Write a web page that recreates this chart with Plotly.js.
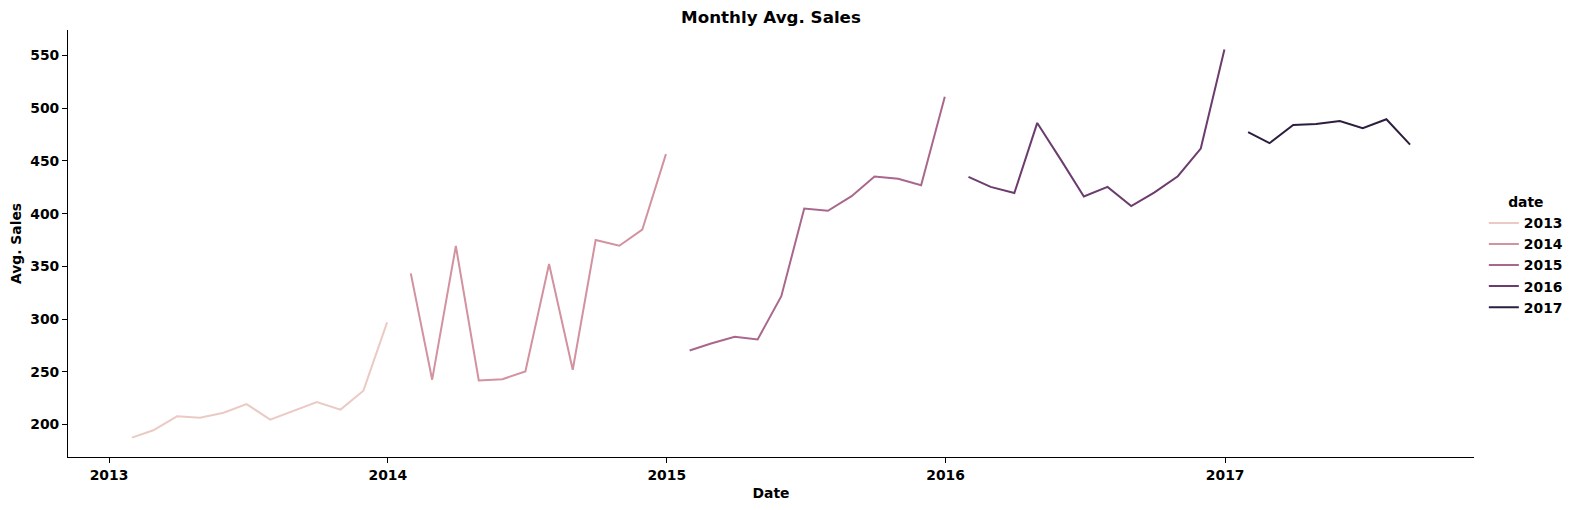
<!DOCTYPE html>
<html>
<head>
<meta charset="utf-8">
<script src="https://cdn.plot.ly/plotly-3.0.1.min.js"></script>
<style>html,body{margin:0;padding:0;background:#fff;}#chart{width:1582px;height:510px;}</style>
</head>
<body>
<div id="chart"></div>
<script>
// Years (hue levels) and monthly average sales (month-end points)
const years = [2013, 2014, 2015, 2016, 2017];
const sales2013 = [187.7, 194.6, 207.9, 206.6, 211.3, 219.5, 204.7, 212.9, 221.4, 214.2, 232.2, 297.0];
const sales2014 = [343.4, 242.6, 369.3, 241.9, 243.1, 250.4, 352.3, 252.0, 375.0, 369.6, 384.8, 456.4];
const sales2015 = [270.3, 276.9, 283.2, 280.7, 321.7, 404.9, 402.7, 416.6, 435.2, 433.0, 427.0, 510.9];
const sales2016 = [434.9, 425.4, 419.5, 486.0, 451.0, 416.3, 425.4, 407.2, 420.0, 435.5, 461.7, 555.7];
const sales2017 = [477.2, 466.8, 484.1, 485.0, 487.9, 481.0, 489.5, 465.5];
const xTickLabels = ["2013", "2014", "2015", "2016", "2017"];

const seriesByYear = [sales2013, sales2014, sales2015, sales2016, sales2017];
const colors = ["#ebcac4", "#d2929f", "#a9678d", "#6c3c6f", "#2d1e3e"];

function monthEnd(y, m) {
  const d = new Date(Date.UTC(y, m + 1, 0));
  return d.toISOString().slice(0, 10);
}

const traces = years.map((yr, i) => ({
  type: "scatter",
  mode: "lines",
  name: String(yr),
  x: seriesByYear[i].map((_, m) => monthEnd(yr, m)),
  y: seriesByYear[i],
  line: { color: colors[i], width: 2 },
  hoverinfo: "x+y+name"
}));

const font = { family: "DejaVu Sans", size: 13.9, color: "#000", weight: "bold" };

const layout = {
  width: 1582,
  height: 510,
  margin: { l: 68, r: 108, t: 30, b: 53 },
  paper_bgcolor: "#fff",
  plot_bgcolor: "#fff",
  font: font,
  title: {
    text: "Monthly Avg. Sales",
    font: { family: "DejaVu Sans", size: 16.7, color: "#000", weight: "bold" },
    x: 0.5, xref: "paper", xanchor: "center",
    y: 1, yref: "paper", yanchor: "bottom",
    pad: { b: 7 }
  },
  xaxis: {
    type: "date",
    range: ["2012-11-08 08:00", "2017-11-22 16:00"],
    tickvals: xTickLabels.map(y => y + "-01-01"),
    ticktext: xTickLabels,
    ticks: "outside", ticklen: 5, tickwidth: 1, tickcolor: "#000",
    showline: true, linecolor: "#000", linewidth: 1,
    showgrid: false, zeroline: false,
    tickfont: font,
    title: { text: "Date", font: font, standoff: 6 }
  },
  yaxis: {
    range: [169.3, 574.1],
    tickvals: [200, 250, 300, 350, 400, 450, 500, 550],
    ticks: "outside", ticklen: 5, tickwidth: 1, tickcolor: "#000",
    showline: true, linecolor: "#000", linewidth: 1,
    showgrid: false, zeroline: false,
    tickfont: font,
    title: { text: "Avg. Sales", font: font, standoff: 5 }
  },
  showlegend: true,
  legend: {
    x: 1.007, xanchor: "left",
    y: 0.627, yanchor: "top",
    bgcolor: "rgba(0,0,0,0)",
    font: font,
    title: { text: "date", side: "top center", font: font },
    tracegroupgap: 0
  }
};

Plotly.newPlot("chart", traces, layout, { displayModeBar: false, staticPlot: true });
</script>
</body>
</html>
